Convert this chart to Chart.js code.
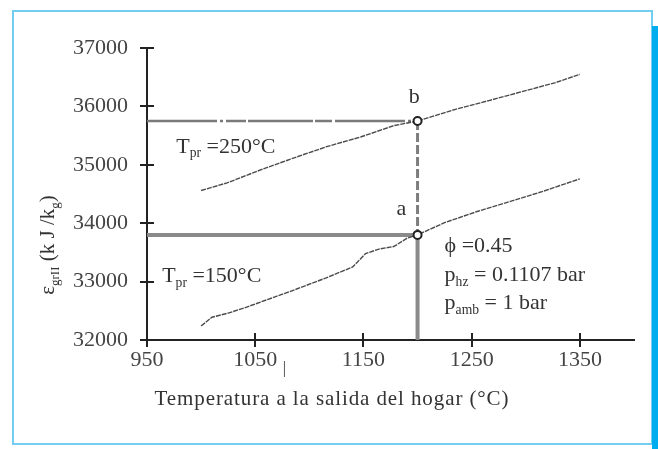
<!DOCTYPE html>
<html>
<head>
<meta charset="utf-8">
<script src="https://cdn.jsdelivr.net/npm/chart.js@4/dist/chart.umd.min.js"></script>
<style>
  html, body { margin: 0; padding: 0; background: #fff; }
  #wrap { position: relative; width: 658px; height: 449px; overflow: hidden; }
  #frame { position: absolute; left: 12px; top: 10px; width: 637px; height: 431px; border: 2px solid #72cdf0; }
  #bar { position: absolute; left: 652px; top: 26px; width: 6px; height: 423px; background: #00aeef; }
  canvas { position: absolute; left: 0; top: 0; }
</style>
</head>
<body>
<div id="wrap">
  <div id="frame"></div>
  <div id="bar"></div>
  <canvas id="c" width="658" height="449"></canvas>
</div>
<script>
// Axis ticks
const xTickValues = [950, 1050, 1150, 1250, 1350];
const yTickValues = [32000, 33000, 34000, 35000, 36000, 37000];

// Exergy vs. furnace outlet temperature, Tpr = 250 °C
const tempUpper   = [1000, 1024, 1056, 1086, 1116, 1148, 1178, 1200, 1235, 1266, 1296, 1328, 1350];
const exergyUpper = [34560, 34690, 34920, 35120, 35310, 35480, 35670, 35750, 35950, 36100, 36250, 36410, 36550];

// Exergy vs. furnace outlet temperature, Tpr = 150 °C
const tempLower   = [1000, 1010, 1025, 1040, 1055, 1085, 1115, 1140, 1152, 1165, 1178, 1190, 1200, 1225, 1255, 1285, 1315, 1350];
const exergyLower = [32240, 32390, 32460, 32550, 32650, 32850, 33060, 33250, 33480, 33560, 33600, 33740, 33800, 34010, 34200, 34370, 34540, 34760];

// Operating states a and b at 1200 °C
const stateTemp = 1200;
const stateA = 33800;
const stateB = 35750;

const FONT = '"Liberation Serif", "Times New Roman", serif';
const toXY = (xs, ys) => xs.map((x, i) => ({ x, y: ys[i] }));

// Text with optional subscript runs, anchored at a data point
function drawRich(ctx, parts, x, y, size, align) {
  const widths = parts.map(p => {
    ctx.font = (p.sub ? size * 0.62 : size) + 'px ' + FONT;
    return ctx.measureText(p.t).width;
  });
  const total = widths.reduce((a, b) => a + b, 0);
  let cx = align === 'center' ? x - total / 2 : x;
  parts.forEach((p, i) => {
    ctx.font = (p.sub ? size * 0.62 : size) + 'px ' + FONT;
    ctx.fillText(p.t, cx, p.sub ? y + size * 0.22 : y);
    cx += widths[i];
  });
}

const notes = [
  { x: 1197, y: 36065, align: 'center', parts: [{ t: 'b' }] },
  { x: 1185, y: 34144, align: 'center', parts: [{ t: 'a' }] },
  { x: 977,  y: 35208, parts: [{ t: 'T' }, { t: 'pr', sub: true }, { t: ' =250°C' }] },
  { x: 964,  y: 32995, parts: [{ t: 'T' }, { t: 'pr', sub: true }, { t: ' =150°C' }] },
  { x: 1225, y: 33509, parts: [{ t: 'ϕ =0.45' }] },
  { x: 1225, y: 33012, parts: [{ t: 'p' }, { t: 'hz', sub: true }, { t: ' = 0.1107 bar' }] },
  { x: 1225, y: 32532, parts: [{ t: 'p' }, { t: 'amb', sub: true }, { t: ' = 1 bar' }] },
  { x: 1077, y: 31434, align: 'center', size: 16, parts: [{ t: '|' }] }
];

const yTitle = [{ t: 'ε' }, { t: 'grII', sub: true }, { t: ' (k J /k' }, { t: 'g', sub: true }, { t: ')' }];
const xTitle = 'Temperatura a la salida del hogar (°C)';

const decorations = {
  id: 'decorations',
  afterDraw(chart) {
    const ctx = chart.ctx;
    const xs = chart.scales.x, ys = chart.scales.y;
    const area = chart.chartArea;
    ctx.save();
    // inner halves of the crossing tick marks
    ctx.strokeStyle = '#222';
    ctx.lineWidth = 2;
    xs.ticks.forEach(t => {
      const px = Math.round(xs.getPixelForValue(t.value));
      ctx.beginPath(); ctx.moveTo(px, area.bottom); ctx.lineTo(px, area.bottom - 7); ctx.stroke();
    });
    ys.ticks.forEach(t => {
      const py = Math.round(ys.getPixelForValue(t.value));
      ctx.beginPath(); ctx.moveTo(area.left, py); ctx.lineTo(area.left + 7, py); ctx.stroke();
    });
    // annotations
    ctx.fillStyle = '#333';
    ctx.textBaseline = 'alphabetic';
    ctx.textAlign = 'left';
    notes.forEach(n => {
      drawRich(ctx, n.parts, xs.getPixelForValue(n.x), ys.getPixelForValue(n.y), n.size || 22, n.align);
    });
    // axis titles
    ctx.font = '21px ' + FONT;
    ctx.letterSpacing = '0.9px';
    ctx.textAlign = 'center';
    ctx.fillText(xTitle, 332, 405);
    ctx.letterSpacing = '0px';
    ctx.textAlign = 'left';
    ctx.translate(54, 245);
    ctx.rotate(-Math.PI / 2);
    drawRich(ctx, yTitle, 0, 0, 21, 'center');
    ctx.restore();
  }
};

new Chart(document.getElementById('c'), {
  type: 'line',
  data: {
    datasets: [
      {
        data: [{ x: stateTemp, y: stateB }, { x: stateTemp, y: stateA }],
        showLine: false, pointRadius: 4, pointBorderWidth: 2,
        pointBorderColor: '#222', pointBackgroundColor: '#fff', order: 0
      },
      {
        data: toXY(tempUpper, exergyUpper),
        borderColor: '#4a4a4a', borderWidth: 1.4, borderDash: [5, 1],
        pointRadius: 0, tension: 0, order: 1
      },
      {
        data: toXY(tempLower, exergyLower),
        borderColor: '#4a4a4a', borderWidth: 1.4, borderDash: [5, 1],
        pointRadius: 0, tension: 0, order: 1
      },
      {
        data: [{ x: xTickValues[0], y: stateB }, { x: stateTemp, y: stateB }],
        borderColor: '#7a7a7a', borderWidth: 2.5, borderDash: [70, 3, 3, 3, 20, 2, 65, 2, 17, 3],
        pointRadius: 0, order: 2
      },
      {
        data: [{ x: stateTemp, y: stateB }, { x: stateTemp, y: stateA }],
        borderColor: '#7d7d7d', borderWidth: 3, borderDash: [9, 3],
        pointRadius: 0, order: 2
      },
      {
        data: [{ x: xTickValues[0], y: stateA }, { x: stateTemp, y: stateA }],
        borderColor: '#8a8a8a', borderWidth: 4,
        pointRadius: 0, order: 3
      },
      {
        data: [{ x: stateTemp, y: stateA }, { x: stateTemp, y: yTickValues[0] }],
        borderColor: '#8a8a8a', borderWidth: 4,
        pointRadius: 0, order: 3
      }
    ]
  },
  options: {
    responsive: false,
    animation: false,
    devicePixelRatio: 1,
    layout: { padding: { left: 0, right: 24, top: 48, bottom: 0 } },
    plugins: { legend: { display: false }, tooltip: { enabled: false } },
    scales: {
      x: {
        type: 'linear', min: 950, max: 1400,
        afterBuildTicks: s => { s.ticks = xTickValues.map(v => ({ value: v })); },
        afterFit: s => { s.height = 109; },
        grid: { drawOnChartArea: false, drawTicks: true, tickLength: 7, tickColor: '#222', lineWidth: 2 },
        border: { color: '#222', width: 2 },
        ticks: { color: '#444', padding: 0, font: { family: FONT, size: 22 }, maxRotation: 0, callback: v => String(v) }
      },
      y: {
        type: 'linear', min: 32000, max: 37000,
        afterBuildTicks: s => { s.ticks = yTickValues.map(v => ({ value: v })); },
        afterFit: s => { s.width = 147; },
        grid: { drawOnChartArea: false, drawTicks: true, tickLength: 7, tickColor: '#222', lineWidth: 2 },
        border: { color: '#222', width: 2 },
        ticks: { color: '#444', padding: 12, font: { family: FONT, size: 22 }, callback: v => String(v) }
      }
    }
  },
  plugins: [decorations]
});
</script>
</body>
</html>
